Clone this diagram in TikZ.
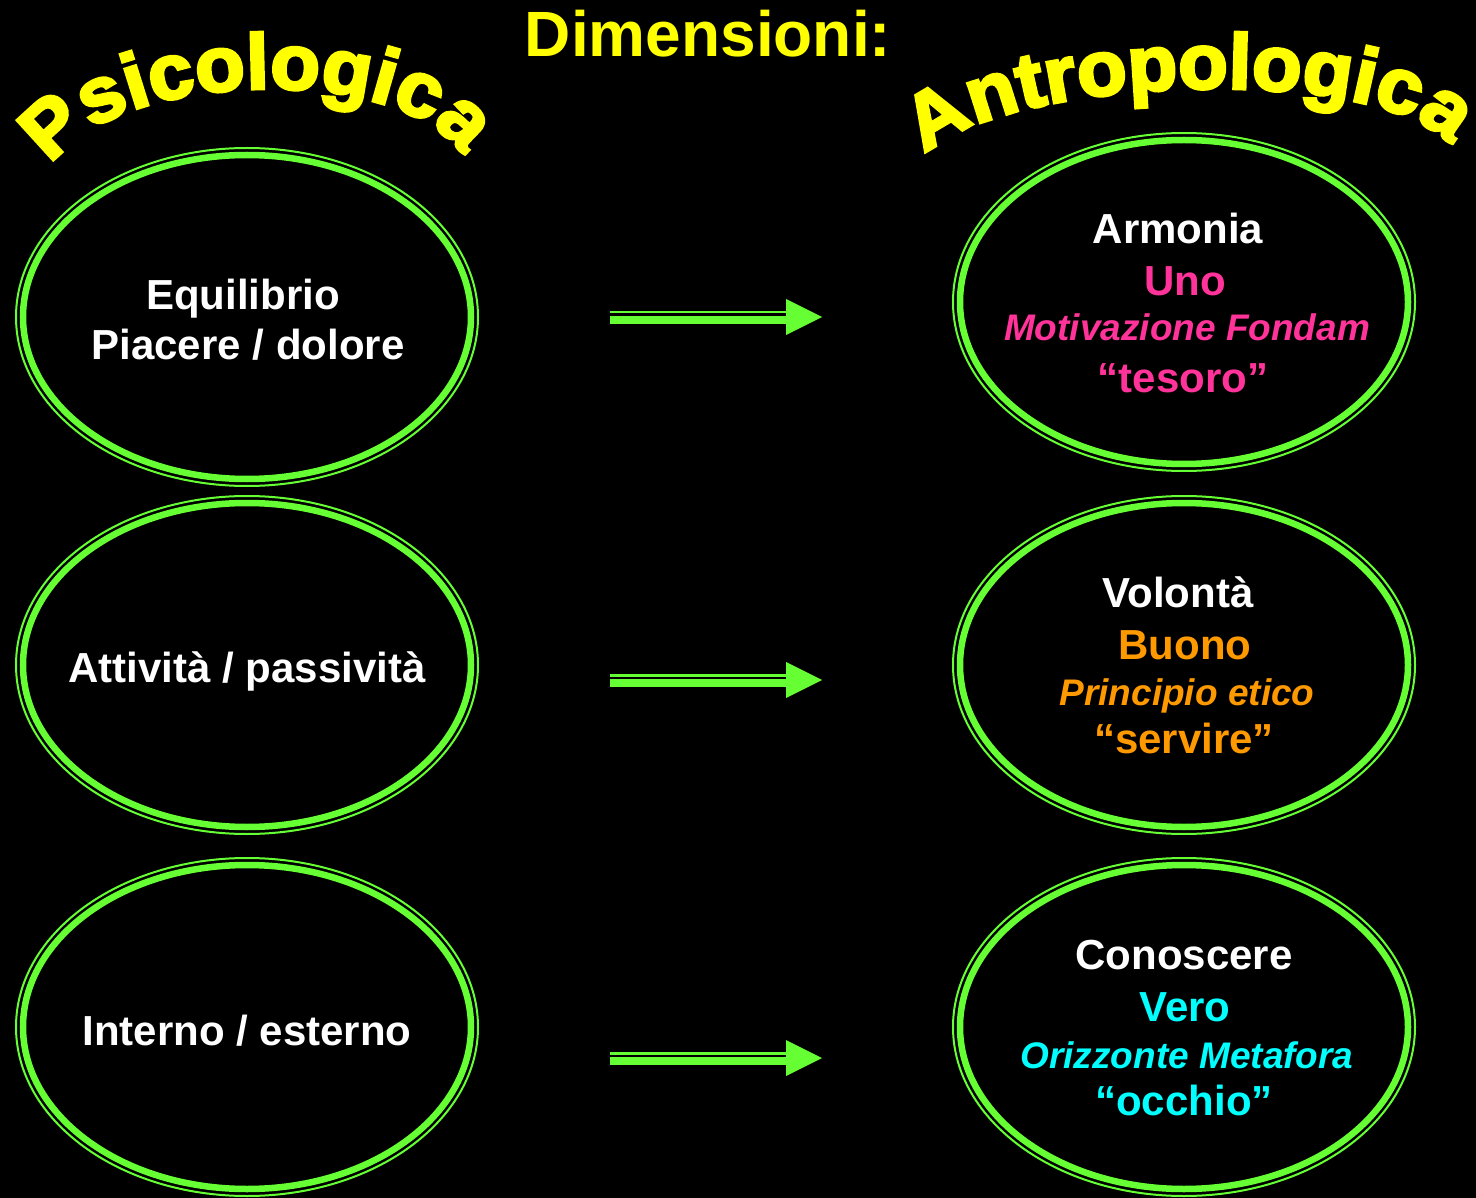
\documentclass[tikz,border=0pt]{standalone}
\usepackage{fontspec}
\setmainfont{Liberation Sans}
\newfontfamily\archfont{Liberation Sans}[UprightFont={* Bold}, FakeBold=4, FakeStretch=1.04]
\usetikzlibrary{shapes.geometric,decorations.text}
\definecolor{lgreen}{HTML}{66FF33}
\definecolor{pinkc}{HTML}{FF3399}
\definecolor{orangec}{HTML}{FF9900}
\definecolor{cyanc}{HTML}{00FFFF}
\definecolor{yell}{HTML}{FFFF00}
\begin{document}
\begin{tikzpicture}[x=1pt,y=-1pt,
  ring/.style={ellipse, draw=lgreen, line width=6.5pt, minimum width=448pt, minimum height=324pt, inner sep=0pt},
  outerring/.style={draw=lgreen, line width=2pt},
  txt/.style={anchor=base, inner sep=0pt, text=white, font=\fontsize{42}{42}\selectfont\bfseries},
  itl/.style={anchor=base, inner sep=0pt, font=\fontsize{37}{37}\selectfont\bfseries\itshape},
  thinbar/.style={draw=lgreen, line width=2.2pt},
  thickbar/.style={draw=lgreen, line width=8pt},
  headtip/.style={fill=lgreen}
]
\fill[black] (0,0) rectangle (1476,1198);
\useasboundingbox (0,0) rectangle (1476,1198);

% title
\node[anchor=base, inner sep=0pt, text=yell, font=\fontsize{64}{64}\selectfont\bfseries] (title) at (708,57) {Dimensioni:};

% arched headings
\path[decorate, decoration={text along path, text align=fit to path,
  text={|\archfont\fontsize{78}{78}\selectfont\color{yell}|Psicologica}}]
  (52,166) .. controls (110,70) and (395,62) .. (458,150);
\path[decorate, decoration={text along path, text align=fit to path,
  text={|\archfont\fontsize{78}{78}\selectfont\color{yell}|Antropologica}}]
  (926,156) .. controls (1000,75) and (1380,62) .. (1448,144);

% ellipses
\foreach \n/\x/\y in {L1/247/317, L2/247/665, L3/247/1027, R1/1184/302, R2/1184/665, R3/1184/1027}{
  \node[ring] (\n) at (\x,\y) {};
  \draw[outerring] (\n.center) ellipse [x radius=231, y radius=169];
}

% left texts
\node[txt] (l1a) at (243,310) {Equilibrio};
\node[txt] (l1b) at (248,360) {Piacere / dolore};
\node[txt] (l2a) at (247,682) {Attività / passività};
\node[txt] (l3a) at (247,1045) {Interno / esterno};

% right texts
\node[txt] (r1a) at (1178,244) {Armonia};
\node[txt, text=pinkc] (r1b) at (1185,296) {Uno};
\node[itl, text=pinkc] (r1c) at (1187,341) {Motivazione Fondam};
\node[txt, text=pinkc] (r1d) at (1183,392) {“tesoro”};

\node[txt] (r2a) at (1178,607) {Volontà};
\node[txt, text=orangec] (r2b) at (1185,659) {Buono};
\node[itl, text=orangec] (r2c) at (1187,705) {Principio etico};
\node[txt, text=orangec] (r2d) at (1184,753) {“servire”};

\node[txt] (r3a) at (1184,969) {Conoscere};
\node[txt, text=cyanc] (r3b) at (1185,1021) {Vero};
\node[itl, text=cyanc] (r3c) at (1187,1068) {Orizzonte Metafora};
\node[txt, text=cyanc] (r3d) at (1184,1115) {“occhio”};

% arrows
\foreach \k/\y in {1/317, 2/680, 3/1058}{
  \coordinate (a\k s) at (610,\y);
  \coordinate (a\k e) at (822,\y);
  \draw[thinbar] ([yshift=4.6pt]a\k s) -- ([xshift=-34pt,yshift=4.6pt]a\k e);
  \draw[thickbar] ([yshift=-2.7pt]a\k s) -- ([xshift=-34pt,yshift=-2.7pt]a\k e);
  \fill[headtip] (a\k e) -- ++(-36,-18) -- ++(0,36) -- cycle;
}
\end{tikzpicture}
\end{document}
